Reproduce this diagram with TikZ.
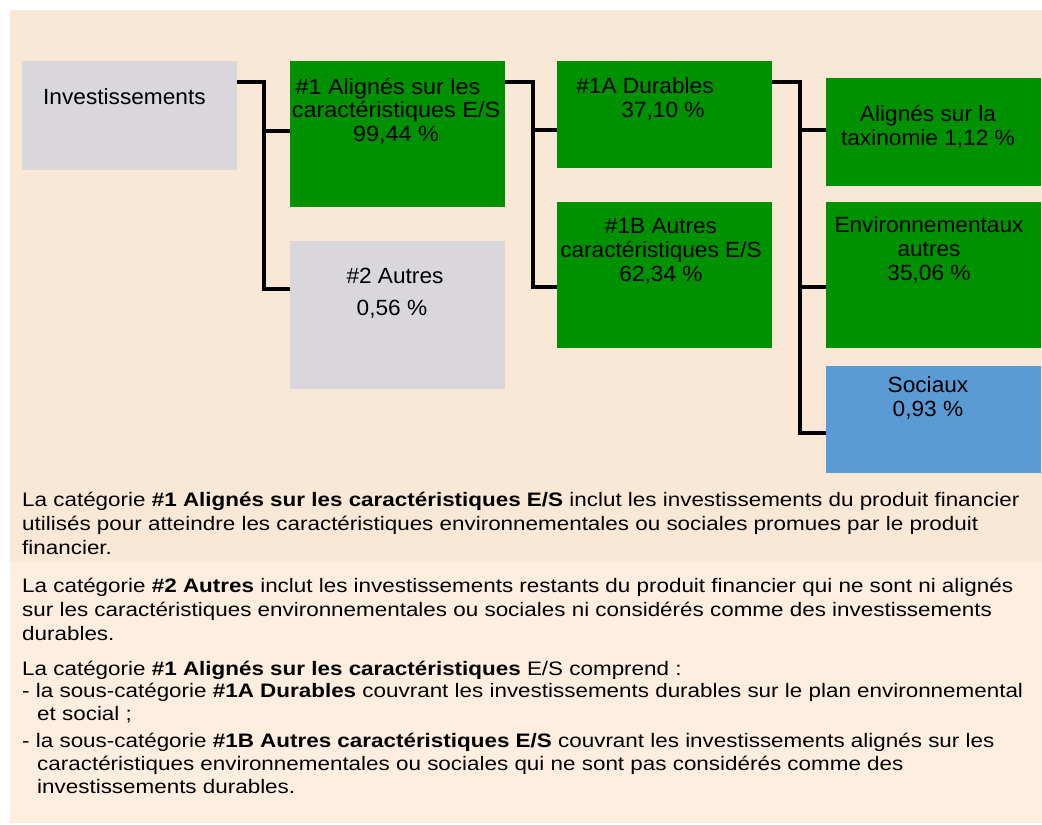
\documentclass[tikz,border=0pt]{standalone}
\usepackage{fontspec}
\setmainfont{Liberation Sans}
\newfontfamily\parafont[FakeStretch=1.15]{Liberation Sans}
\newfontfamily\boxfont[FakeStretch=1.03]{Liberation Sans}
\newfontfamily\boxwidefont[FakeStretch=1.065]{Liberation Sans}
\definecolor{peachA}{HTML}{F9E8D6}
\definecolor{peachB}{HTML}{FDEEE0}
\definecolor{boxgrey}{HTML}{DAD7DC}
\definecolor{boxgreen}{HTML}{009100}
\definecolor{boxblue}{HTML}{5B9BD5}
\tikzset{
  box/.style={draw=none, inner sep=0pt, anchor=north west},
  btext/.style={inner sep=0pt, align=center, anchor=base, font=\boxfont\fontsize{22}{24}\selectfont},
  ptext/.style={inner sep=0pt, align=left, anchor=base west, font=\parafont\fontsize{19.5}{23.75}\selectfont},
  conn/.style={line width=3.4pt, black, line join=miter},
}
\begin{document}
\begin{tikzpicture}[x=1pt,y=-1pt]
\useasboundingbox (0,0) rectangle (1042,825);
\fill[white] (0,0) rectangle (1042,825);
\fill[peachA] (10,10) rectangle (1042,562);
\fill[peachB] (10,562) rectangle (1042,823);

% boxes
\node[box, fill=boxgrey, minimum width=215pt, minimum height=109pt] (inv) at (22,61) {};
\node[box, fill=boxgreen, minimum width=215pt, minimum height=146pt] (n1) at (290,61) {};
\node[box, fill=boxgrey, minimum width=215pt, minimum height=148pt] (n2) at (290,241) {};
\node[box, fill=boxgreen, minimum width=215pt, minimum height=107pt] (n1a) at (557,61) {};
\node[box, fill=boxgreen, minimum width=215pt, minimum height=146pt] (n1b) at (557,202) {};
\node[box, fill=boxgreen, minimum width=215pt, minimum height=108pt] (tax) at (826,78) {};
\node[box, fill=boxgreen, minimum width=215pt, minimum height=146pt] (env) at (826,202) {};
\node[box, fill=boxblue, minimum width=215pt, minimum height=107pt] (soc) at (826,366) {};

% box texts (anchor = baseline of last line)
\node[btext, anchor=base west] (tinv) at (43,104) {Investissements};
\node[btext, font=\boxwidefont\fontsize{22}{23.5}\selectfont] (tn1) at (396,141) {\#1 Alignés sur les\hspace*{16pt}\\caractéristiques E/S\\99,44 \%};
\node[btext] (tn2) at (392,315) {\#2 Autres\hspace*{-6pt}\\[8pt]0,56 \%};
\node[btext] (tn1a) at (663,117) {\#1A Durables\hspace*{36pt}\\37,10 \%};
\node[btext] (tn1b) at (661,281) {\#1B Autres\\caractéristiques E/S\\62,34 \%};
\node[btext] (ttax) at (928,145) {Alignés sur la\\taxinomie 1,12 \%};
\node[btext] (tenv) at (929,280) {Environnementaux\\autres\\35,06 \%};
\node[btext] (tsoc) at (928,416) {Sociaux\\0,93 \%};

% connectors
\coordinate (s1) at (264,82);
\coordinate (b1) at (264,289);
\coordinate (m1) at (264,131);
\draw[conn] (inv.east |- s1) -- (s1) -- (b1) -- (n2.west |- b1);
\draw[conn] (m1) -- (n1.west |- m1);

\coordinate (s2) at (533,82);
\coordinate (b2) at (533,287);
\coordinate (m2) at (533,130);
\draw[conn] (n1.east |- s2) -- (s2) -- (b2) -- (n1b.west |- b2);
\draw[conn] (m2) -- (n1a.west |- m2);

\coordinate (s3) at (800,82);
\coordinate (b3) at (800,433);
\coordinate (m3) at (800,130);
\coordinate (e3) at (800,287);
\draw[conn] (n1a.east |- s3) -- (s3) -- (b3) -- (soc.west |- b3);
\draw[conn] (m3) -- (tax.west |- m3);
\draw[conn] (e3) -- (env.west |- e3);

% paragraphs (anchor = baseline of last line)
\node[ptext] (p1) at (22,554) {La catégorie \textbf{\#1 Alignés sur les caractéristiques E/S} inclut les investissements du produit financier\\utilisés pour atteindre les caractéristiques environnementales ou sociales promues par le produit\\financier.};
\node[ptext] (p2) at (22,640) {La catégorie \textbf{\#2 Autres} inclut les investissements restants du produit financier qui ne sont ni alignés\\sur les caractéristiques environnementales ou sociales ni considérés comme des investissements\\durables.};
\node[ptext, font=\parafont\fontsize{19.5}{22.8}\selectfont] (p3) at (22,793) {La catégorie \textbf{\#1 Alignés sur les caractéristiques} E/S comprend :\\- la sous-catégorie \textbf{\#1A Durables} couvrant les investissements durables sur le plan environnemental\\\hspace*{15pt}et social ;\\[4pt]- la sous-catégorie \textbf{\#1B Autres caractéristiques E/S} couvrant les investissements alignés sur les\\\hspace*{15pt}caractéristiques environnementales ou sociales qui ne sont pas considérés comme des\\\hspace*{15pt}investissements durables.};
\end{tikzpicture}
\end{document}
